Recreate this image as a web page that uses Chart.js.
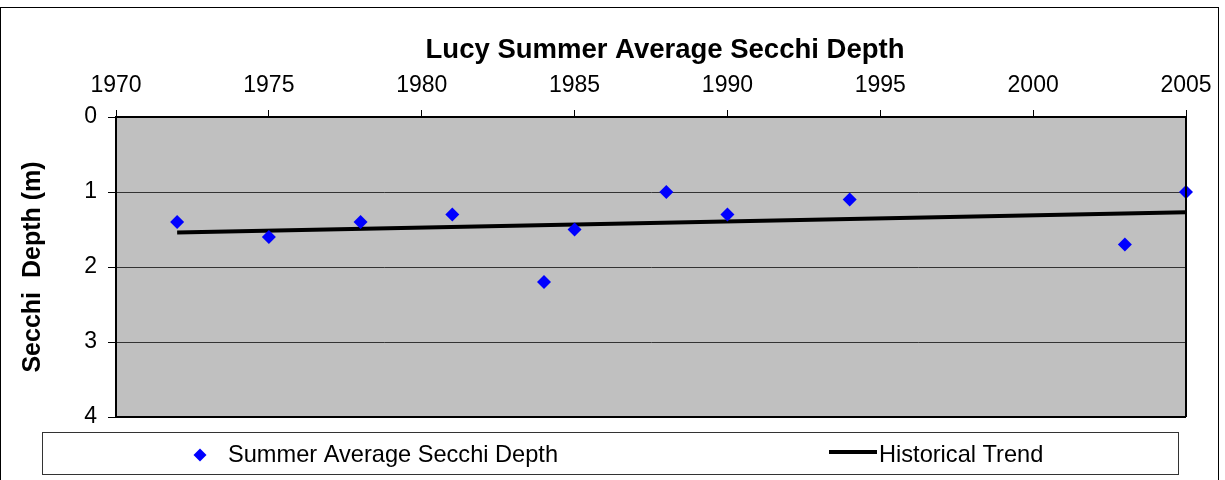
<!DOCTYPE html>
<html>
<head>
<meta charset="utf-8">
<script src="https://cdn.jsdelivr.net/npm/chart.js@4"></script>
<style>
  html, body { margin: 0; padding: 0; background: #fff; }
  #wrap { position: relative; width: 1225px; height: 480px; overflow: hidden; }
  #frame { position: absolute; left: 0; top: 7px; width: 1219px; height: 500px; border: 1px solid #000; box-sizing: border-box; pointer-events: none; }
  canvas { position: absolute; left: 0; top: 0; }
</style>
</head>
<body>
<div id="wrap">
  <canvas id="c" width="1225" height="480"></canvas>
  <div id="frame"></div>
</div>
<script>
// ---- data ----
const chartTitle = 'Lucy Summer Average Secchi Depth';
const yAxisTitle = 'Secchi  Depth (m)';
const years = [1972, 1975, 1978, 1981, 1984, 1985, 1988, 1990, 1994, 2003, 2005];
const secchiDepth = [1.4, 1.6, 1.4, 1.3, 2.2, 1.5, 1.0, 1.3, 1.1, 1.7, 1.0];
const trendYears = [1972, 2005];
const trendDepth = [1.54, 1.27];
const xTickLabels = ['1970', '1975', '1980', '1985', '1990', '1995', '2000', '2005'];
const yTickLabels = ['0', '1', '2', '3', '4'];
const seriesNames = ['Summer Average Secchi Depth', 'Historical Trend'];

const FONT = '"Liberation Sans", Arial, sans-serif';

const plotBg = {
  id: 'plotBg',
  beforeDraw(chart) {
    const {ctx, chartArea: a} = chart;
    ctx.save();
    ctx.fillStyle = '#C0C0C0';
    ctx.fillRect(a.left, a.top, a.right - a.left, a.bottom - a.top);
    ctx.restore();
  },
  afterDatasetsDraw(chart) {
    const {ctx, chartArea: a} = chart;
    ctx.save();
    ctx.strokeStyle = '#000';
    ctx.lineWidth = 2;
    ctx.beginPath();
    ctx.moveTo(a.right, a.top);
    ctx.lineTo(a.right, a.bottom);
    ctx.moveTo(a.left, a.bottom);
    ctx.lineTo(a.right, a.bottom);
    ctx.stroke();
    ctx.restore();
  }
};

const titleAndLegend = {
  id: 'titleAndLegend',
  afterDraw(chart) {
    const {ctx} = chart;
    const ds = chart.data.datasets;
    ctx.save();
    // title
    ctx.fillStyle = '#000';
    ctx.font = 'bold 27.5px ' + FONT;
    ctx.textAlign = 'center';
    ctx.textBaseline = 'alphabetic';
    ctx.fillText(chartTitle, 665, 58);
    // legend box
    ctx.strokeStyle = '#333';
    ctx.lineWidth = 1;
    ctx.strokeRect(42.5, 432.5, 1136, 42);
    // item 1: diamond
    ctx.fillStyle = ds[0].backgroundColor;
    ctx.beginPath();
    const cx = 200, cy = 455, r = 6.5;
    ctx.moveTo(cx - r, cy); ctx.lineTo(cx, cy - r); ctx.lineTo(cx + r, cy); ctx.lineTo(cx, cy + r);
    ctx.closePath();
    ctx.fill();
    ctx.fillStyle = '#000';
    ctx.font = '23.6px ' + FONT;
    ctx.textAlign = 'left';
    ctx.fillText(ds[0].label, 228, 462);
    // item 2: line
    ctx.strokeStyle = ds[1].borderColor;
    ctx.lineWidth = 4;
    ctx.beginPath();
    ctx.moveTo(829, 452);
    ctx.lineTo(877, 452);
    ctx.stroke();
    ctx.fillText(ds[1].label, 879, 462);
    ctx.restore();
  }
};

new Chart(document.getElementById('c'), {
  type: 'scatter',
  data: {
    datasets: [
      {
        label: seriesNames[0],
        data: years.map((y, i) => ({x: y, y: secchiDepth[i]})),
        backgroundColor: '#0000FF',
        borderColor: '#0000FF',
        pointStyle: 'rectRot',
        pointRadius: 7,
        pointBorderWidth: 0,
        showLine: false,
        clip: false
      },
      {
        label: seriesNames[1],
        data: trendYears.map((y, i) => ({x: y, y: trendDepth[i]})),
        type: 'line',
        borderColor: '#000000',
        backgroundColor: '#000000',
        borderWidth: 4,
        pointRadius: 0,
        fill: false,
        clip: false
      }
    ]
  },
  options: {
    responsive: false,
    animation: false,
    devicePixelRatio: 1,
    layout: { padding: { left: 10, right: 39, top: 63, bottom: 63 } },
    plugins: {
      legend: { display: false },
      tooltip: { enabled: false },
      title: { display: false }
    },
    scales: {
      x: {
        type: 'linear',
        position: 'top',
        min: 1970,
        max: 2005,
        afterBuildTicks(scale) { scale.ticks = xTickLabels.map(t => ({value: Number(t)})); },
        afterFit(scale) { scale.height = 54; },
        ticks: {
          color: '#000',
          font: { family: FONT, size: 23 },
          padding: 11,
          maxRotation: 0,
          autoSkip: false,
          callback: (v) => xTickLabels.find(t => Number(t) === v) ?? ''
        },
        grid: { drawOnChartArea: false, drawTicks: true, tickLength: 7, color: '#000', tickColor: '#000', tickWidth: 1 },
        border: { display: true, color: '#000', width: 2 }
      },
      y: {
        type: 'linear',
        reverse: true,
        min: 0,
        max: 4,
        afterBuildTicks(scale) { scale.ticks = yTickLabels.map(t => ({value: Number(t)})); },
        afterFit(scale) { scale.width = 106; },
        ticks: {
          color: '#000',
          font: { family: FONT, size: 23 },
          padding: 11,
          autoSkip: false,
          callback: (v) => yTickLabels.find(t => Number(t) === v) ?? ''
        },
        grid: { drawOnChartArea: true, drawTicks: true, tickLength: 8, color: '#333', tickColor: '#000', lineWidth: 1 },
        border: { display: true, color: '#000', width: 2 },
        title: {
          display: true,
          text: yAxisTitle,
          color: '#000',
          font: { family: FONT, size: 25, weight: 'bold' },
          padding: { top: 8, bottom: 0 }
        }
      }
    }
  },
  plugins: [plotBg, titleAndLegend]
});
</script>
</body>
</html>
